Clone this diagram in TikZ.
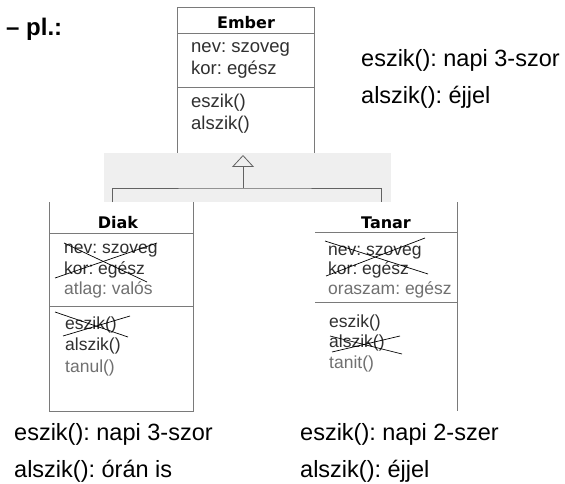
\documentclass[tikz,border=0pt]{standalone}
\usepackage{fontspec}
\setmainfont{Liberation Sans}
\newfontfamily\headfont{DejaVu Sans}
\usetikzlibrary{arrows.meta}
\definecolor{bandgray}{HTML}{EFEFEF}
\definecolor{boxline}{HTML}{7A7A7A}
\definecolor{membertext}{HTML}{303030}
\definecolor{newtext}{HTML}{707070}
\frenchspacing

\begin{document}
\begin{tikzpicture}[x=1pt, y=-1pt,
	classbox/.style={anchor=north west, inner sep=0pt, outer sep=0pt},
	border/.style={draw=boxline, line width=0.8pt},
	classname/.style={anchor=base, inner sep=0pt, font=\headfont\bfseries\fontsize{16}{18}\selectfont},
	member/.style={anchor=base west, inner sep=0pt, text=membertext, font=\fontsize{17.5}{20}\selectfont},
	basemember/.style={member, font=\fontsize{18.5}{21}\selectfont},
	extra/.style={member, text=newtext},
	note/.style={anchor=base west, inner sep=0pt, font=\fontsize{23.5}{26}\selectfont},
	strike/.style={line width=0.7pt},
	connector/.style={draw=boxline!80!black, line width=0.8pt}]
		\useasboundingbox (0,0) rectangle (565,484);
		\node [anchor=base west, inner sep=0pt, font=\bfseries\fontsize{24}{26}\selectfont] (title) at (6,36) {– pl.:};

		% base class
		\node [classbox, border, fill=white, minimum width=137pt, minimum height=150pt] (ember) at (177,7) {};
		\draw [border] (ember.west |- 0,33) -- (ember.east |- 0,33);
		\draw [border] (ember.west |- 0,87) -- (ember.east |- 0,87);
		\node [classname] (embername) at (246,29) {Ember};
		\node [basemember] (embernev) at (191,53) {nev: szoveg};
		\node [basemember] (emberkor) at (191,75) {kor: egész};
		\node [basemember] (embereszik) at (191,108) {eszik()};
		\node [basemember] (emberalszik) at (191,130) {alszik()};

		\fill [bandgray] (104,153) rectangle (391,202);

		% subclasses
		\node [classbox, fill=white, minimum width=144pt, minimum height=209pt] (diak) at (49,202) {};
		\draw [border] (diak.north west) -- (diak.south west) -- (diak.south east) -- (diak.north east);
		\draw [border] (diak.west |- 0,233) -- (diak.east |- 0,233);
		\draw [border] (diak.west |- 0,306) -- (diak.east |- 0,306);
		\node [classbox, fill=white, minimum width=142pt, minimum height=209pt] (tanar) at (315,202) {};
		\draw [border] (tanar.north east) -- (tanar.south east);
		\draw [border] (tanar.west |- 0,232) -- (tanar.east |- 0,232);
		\draw [border] (tanar.west |- 0,302) -- (tanar.east |- 0,302);

		\node [classname] (diakname) at (118,228) {Diak};
		\node [member] (diaknev) at (64,253) {nev: szoveg};
		\node [member] (diakkor) at (64,274) {kor: egész};
		\node [extra] (diakatlag) at (64,294) {atlag: valós};
		\node [member] (diakeszik) at (65,329) {eszik()};
		\node [member] (diakalszik) at (65,350) {alszik()};
		\node [extra] (diaktanul) at (65,372) {tanul()};
		\draw [strike] (64,243) -- (147,282);
		\draw [strike] (157,243) -- (55,278);
		\draw [strike] (55,312) -- (128,337);
		\draw [strike] (130,316) -- (63,336);

		\node [classname] (tanarname) at (386,228) {Tanar};
		\node [member] (tanarnev) at (328,255) {nev: szoveg};
		\node [member] (tanarkor) at (328,274) {kor: egész};
		\node [extra] (tanaroraszam) at (328,294) {oraszam: egész};
		\node [member] (tanareszik) at (329,327) {eszik()};
		\node [member] (tanaralszik) at (329,347) {alszik()};
		\node [extra] (tanartanit) at (329,368) {tanit()};
		\draw [strike] (325,241) -- (428,274);
		\draw [strike] (425,238) -- (326,276);
		\draw [strike] (330,336) -- (402,354);
		\draw [strike] (400,336) -- (332,352);

		% inheritance
		\coordinate (hub) at (243,188);
		\coordinate (apex) at (243,155);
		\coordinate (diakjoin) at (112,202);
		\coordinate (tanarjoin) at (381,202);
		\draw [connector] (diakjoin) |- (hub) -| (tanarjoin);
		\draw [connector, -{Triangle[open, width=22pt, length=12pt]}] (hub) -- (apex);

		% notes
		\node [note] (embernote1) at (361,67) {eszik(): napi 3-szor};
		\node [note] (embernote2) at (361,104) {alszik(): éjjel};
		\node [note] (diaknote1) at (14,440) {eszik(): napi 3-szor};
		\node [note] (diaknote2) at (14,477) {alszik(): órán is};
		\node [note] (tanarnote1) at (300,440) {eszik(): napi 2-szer};
		\node [note] (tanarnote2) at (300,477) {alszik(): éjjel};
\end{tikzpicture}
\end{document}
